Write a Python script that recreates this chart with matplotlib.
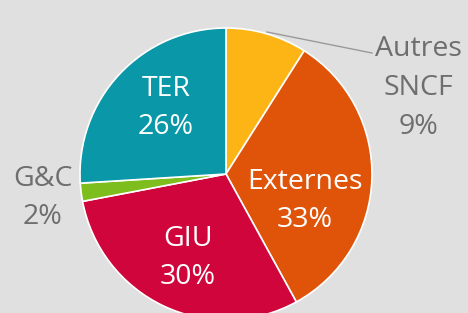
import numpy as np
import matplotlib.pyplot as plt

labels = ['Autres\nSNCF', 'Externes', 'GIU', 'G&C', 'TER']
shares = [9, 33, 30, 2, 26]
colors = ['#FDB515', '#E0540A', '#D0053C', '#7DBE1E', '#0A97A8']

plt.rcParams['font.family'] = ['Open Sans', 'DejaVu Sans']

H = 313
fig = plt.figure(figsize=(4.68, 3.13), dpi=100)
fig.patch.set_facecolor('#E0E0E0')
ax = fig.add_axes([0, 0, 1, 1])

cx, cy, r = 226, 174, 146
ax.pie(shares, colors=colors, startangle=90, counterclock=False,
       center=(cx, H - cy), radius=r, frame=True,
       wedgeprops=dict(edgecolor='white', linewidth=1.2))
ax.set_xlim(0, 468)
ax.set_ylim(0, H)
ax.set_aspect('equal')
ax.axis('off')

# label centres, pixels from top-left
inside = {1: (305, 201), 2: (188, 258), 4: (166, 108)}
outside = {0: (418, 88), 3: (43, 198)}
for i, (x, y) in inside.items():
    ax.text(x, H - y, f'{labels[i]}\n{shares[i]}%', color='white', fontsize=20.5,
            ha='center', va='center', linespacing=1.5)
for i, (x, y) in outside.items():
    ax.text(x, H - y, f'{labels[i]}\n{shares[i]}%', color='#6E6E6E', fontsize=20.5,
            ha='center', va='center', linespacing=1.5)

ax.plot([267, 372], [H - 32, H - 53], color='#9A9A9A', lw=1)

fig.savefig('out.png', dpi=100, facecolor=fig.get_facecolor())
